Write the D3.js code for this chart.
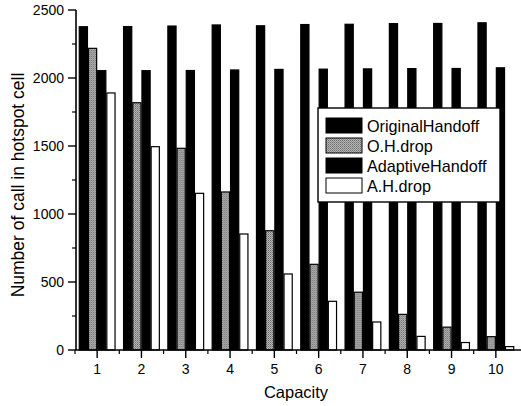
<!DOCTYPE html>
<html>
<head>
<meta charset="utf-8">
<script src="https://cdn.jsdelivr.net/npm/d3@7"></script>
<style>
  body { margin: 0; background: #fff; }
  text { font-family: "Liberation Sans", Arial, sans-serif; fill: #000; }
</style>
</head>
<body>
<svg id="chart"></svg>
<script>
var capacity = [1, 2, 3, 4, 5, 6, 7, 8, 9, 10];
var seriesNames = ["OriginalHandoff", "O.H.drop", "AdaptiveHandoff", "A.H.drop"];
var originalHandoff = [2377, 2378, 2382, 2390, 2384, 2393, 2395, 2400, 2401, 2406];
var ohDrop = [2218, 1818, 1483, 1162, 877, 630, 425, 262, 168, 98];
var adaptiveHandoff = [2054, 2054, 2055, 2059, 2063, 2065, 2067, 2069, 2070, 2075];
var ahDrop = [1890, 1495, 1152, 853, 559, 358, 206, 100, 55, 25];
var yTicks = [0, 500, 1000, 1500, 2000, 2500];

var width = 521, height = 406;
var plotLeft = 76, plotRight = 521, plotTop = 10, plotBottom = 350;

var svg = d3.select("#chart").attr("width", width).attr("height", height);

// grey dotted fill for the drop series
var defs = svg.append("defs");
var pat = defs.append("pattern").attr("id", "grey").attr("width", 2).attr("height", 2)
  .attr("patternUnits", "userSpaceOnUse");
pat.append("rect").attr("width", 2).attr("height", 2).attr("fill", "#b8b8b8");
pat.append("rect").attr("width", 1).attr("height", 1).attr("fill", "#6a6a6a");
pat.append("rect").attr("x", 1).attr("y", 1).attr("width", 1).attr("height", 1).attr("fill", "#8a8a8a");

var x = d3.scaleBand().domain(capacity).range([75, 518]).paddingInner(0.17).paddingOuter(0.085);
var xs = d3.scaleBand().domain(seriesNames).range([0, x.bandwidth()]);
var y = d3.scaleLinear().domain([0, 2500]).range([plotBottom, plotTop]);

var fills = ["#000", "url(#grey)", "#000", "#fff"];
var rows = capacity.map(function(c, i) {
  return [originalHandoff[i], ohDrop[i], adaptiveHandoff[i], ahDrop[i]];
});

var groups = svg.selectAll(".grp").data(rows).enter().append("g")
  .attr("class", "grp")
  .attr("transform", function(d, i) { return "translate(" + x(capacity[i]) + ",0)"; });

groups.selectAll("rect").data(function(d) { return d; }).enter().append("rect")
  .attr("x", function(d, j) { return xs(seriesNames[j]) + 0.5; })
  .attr("y", function(d) { return y(d); })
  .attr("width", xs.bandwidth() - 1)
  .attr("height", function(d) { return plotBottom - y(d); })
  .attr("fill", function(d, j) { return fills[j]; })
  .attr("stroke", "#000")
  .attr("stroke-width", 1.2);

// y axis
var yAxis = svg.append("g").attr("transform", "translate(" + plotLeft + ",0)");
yAxis.append("line").attr("y1", plotTop).attr("y2", plotBottom).attr("stroke", "#000").attr("stroke-width", 1.6);
yAxis.selectAll(".minor").data(d3.range(250, 2500, 500)).enter().append("line")
  .attr("x1", -4).attr("x2", 0).attr("y1", y).attr("y2", y).attr("stroke", "#000").attr("stroke-width", 1.2);
yAxis.selectAll(".major").data(yTicks).enter().append("line")
  .attr("x1", -8).attr("x2", 0).attr("y1", y).attr("y2", y).attr("stroke", "#000").attr("stroke-width", 1.4);
yAxis.selectAll(".lab").data(yTicks).enter().append("text")
  .attr("x", -12).attr("y", function(d) { return y(d) + 5; })
  .attr("text-anchor", "end").style("font-size", "14px")
  .text(function(d) { return d; });

// x axis
var xAxis = svg.append("g").attr("transform", "translate(0," + plotBottom + ")");
xAxis.append("line").attr("x1", plotLeft).attr("x2", plotRight).attr("stroke", "#000").attr("stroke-width", 1.6);
xAxis.selectAll(".minor").data(capacity).enter().append("line")
  .attr("x1", function(d) { return x(d) - x.step() * x.paddingInner() / 2; })
  .attr("x2", function(d) { return x(d) - x.step() * x.paddingInner() / 2; })
  .attr("y1", 0).attr("y2", 4).attr("stroke", "#000").attr("stroke-width", 1.2);
xAxis.selectAll(".major").data(capacity).enter().append("line")
  .attr("x1", function(d) { return x(d) + x.bandwidth() / 2; })
  .attr("x2", function(d) { return x(d) + x.bandwidth() / 2; })
  .attr("y1", 0).attr("y2", 8).attr("stroke", "#000").attr("stroke-width", 1.4);
xAxis.selectAll(".lab").data(capacity).enter().append("text")
  .attr("x", function(d) { return x(d) + x.bandwidth() / 2; })
  .attr("y", 24).attr("text-anchor", "middle").style("font-size", "14px")
  .text(function(d) { return d; });

svg.append("text").attr("x", 296).attr("y", 398).attr("text-anchor", "middle")
  .style("font-size", "16.5px").text("Capacity");
svg.append("text").attr("transform", "translate(24,185) rotate(-90)").attr("text-anchor", "middle")
  .style("font-size", "17.5px").text("Number of call in hotspot cell");

// legend
var legend = svg.append("g").attr("transform", "translate(318,108)");
legend.append("rect").attr("width", 182).attr("height", 94).attr("fill", "#fff")
  .attr("stroke", "#000").attr("stroke-width", 1.4);
var items = legend.selectAll(".item").data(seriesNames).enter().append("g")
  .attr("transform", function(d, i) { return "translate(8," + (10 + i * 20) + ")"; });
items.append("rect").attr("width", 36).attr("height", 15)
  .attr("fill", function(d, i) { return fills[i]; })
  .attr("stroke", "#000").attr("stroke-width", 1);
items.append("text").attr("x", 41).attr("y", 14).style("font-size", "16.2px")
  .text(function(d) { return d; });
</script>
</body>
</html>
